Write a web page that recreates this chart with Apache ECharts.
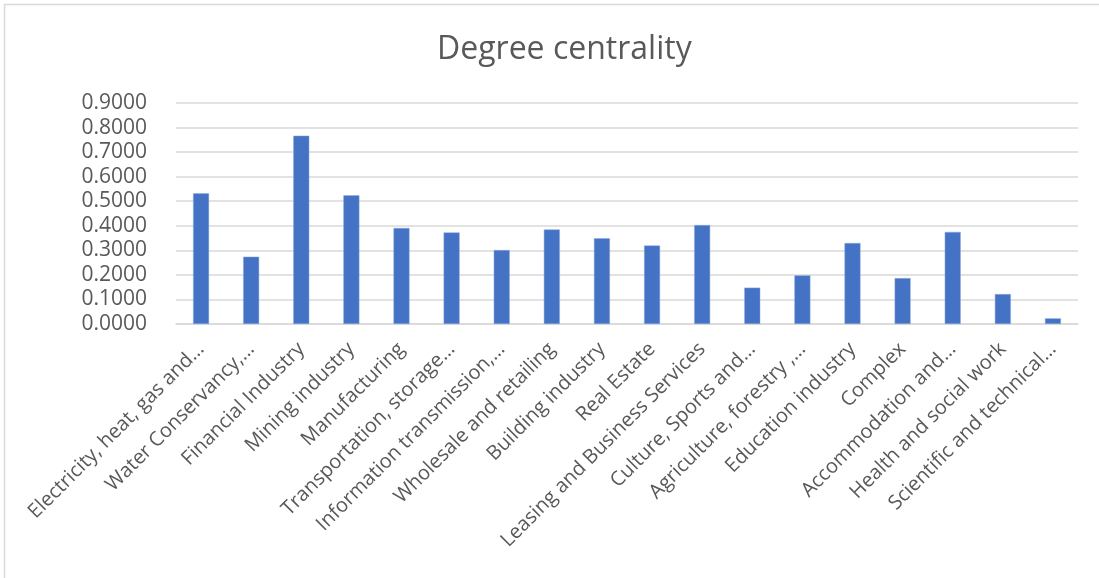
<!DOCTYPE html>
<html>
<head>
<meta charset="utf-8">
<style>
  html, body { margin: 0; padding: 0; background: #fff; }
  #chart { width: 1099px; height: 578px; }
</style>
<script src="https://cdn.jsdelivr.net/npm/echarts@6/dist/echarts.min.js"></script>
</head>
<body>
<div id="chart"></div>
<script>
// Sectors, in plotted order
const sectors = [
  'Electricity, heat, gas and…',
  'Water Conservancy,…',
  'Financial Industry',
  'Mining industry',
  'Manufacturing',
  'Transportation, storage…',
  'Information transmission,…',
  'Wholesale and retailing',
  'Building industry',
  'Real Estate',
  'Leasing and Business Services',
  'Culture, Sports and…',
  'Agriculture, forestry ,…',
  'Education industry',
  'Complex',
  'Accommodation and…',
  'Health and social work',
  'Scientific and technical…'
];

// Degree centrality of each sector
const degreeCentrality = [
  0.532, 0.274, 0.767, 0.524, 0.391, 0.373, 0.301, 0.385, 0.349,
  0.320, 0.403, 0.148, 0.198, 0.330, 0.187, 0.375, 0.122, 0.023
];

// Value axis range
const yMin = 0;
const yMax = 0.9;
const yStep = 0.1;

const FONT = '"Open Sans", "Noto Sans", sans-serif';
const TEXT = '#595959';
const GRID = '#d9d9d9';

const chart = echarts.init(document.getElementById('chart'), null, { renderer: 'canvas' });

chart.setOption({
  backgroundColor: '#ffffff',
  animation: false,
  title: {
    text: 'Degree centrality',
    left: 432,
    top: 29,
    textStyle: { fontFamily: FONT, fontSize: 32, fontWeight: 'normal', color: TEXT }
  },
  graphic: [{
    type: 'rect',
    shape: { x: 4.5, y: 4.5, width: 1300, height: 800 },
    style: { fill: 'none', stroke: GRID, lineWidth: 1.5 },
    silent: true
  }],
  grid: { left: 176, right: 21, top: 103, bottom: 254, containLabel: false },
  xAxis: {
    type: 'category',
    data: sectors,
    axisLine: { show: true, lineStyle: { color: GRID, width: 1.5 } },
    axisTick: { show: false },
    axisLabel: {
      interval: 0,
      rotate: 45,
      margin: 22,
      fontFamily: FONT,
      fontSize: 20,
      color: TEXT
    }
  },
  yAxis: {
    type: 'value',
    min: yMin,
    max: yMax,
    interval: yStep,
    axisLine: { show: false },
    axisTick: { show: false },
    splitLine: { lineStyle: { color: GRID, width: 1.5 } },
    axisLabel: {
      margin: 29,
      fontFamily: FONT,
      fontSize: 21,
      color: TEXT,
      formatter: v => v.toFixed(4)
    }
  },
  series: [{
    type: 'bar',
    data: degreeCentrality,
    barWidth: 16,
    itemStyle: { color: '#4472C4', borderColor: '#8faadc', borderWidth: 0.5 }
  }]
});
</script>
</body>
</html>
